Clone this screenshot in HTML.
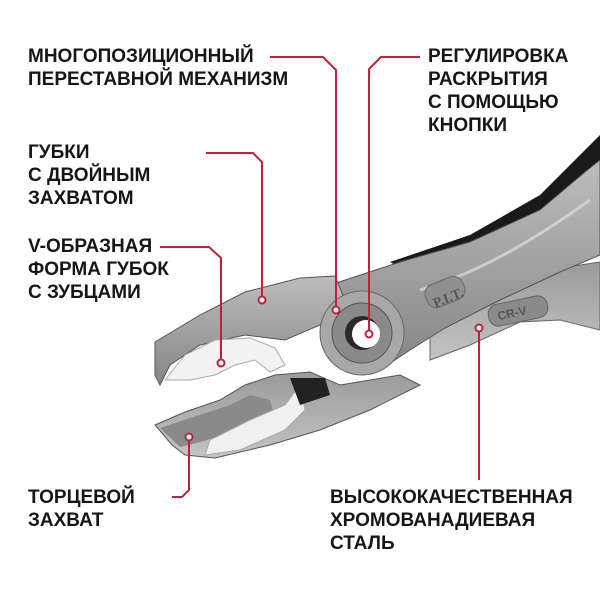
<!DOCTYPE html>
<html><head><meta charset="utf-8"><style>
html,body{margin:0;padding:0;background:#fff;}
#c{position:relative;width:600px;height:600px;overflow:hidden;}
svg{position:absolute;left:0;top:0;}
.t{position:absolute;font-family:"Liberation Sans","DejaVu Sans",sans-serif;font-weight:bold;font-size:19px;line-height:23px;color:#161616;white-space:nowrap;letter-spacing:0px;}
</style></head><body><div id="c">
<svg width="600" height="600" viewBox="0 0 600 600">
<defs>
<linearGradient id="g1" x1="0" y1="0" x2="0" y2="1"><stop offset="0" stop-color="#bdbdbd"/><stop offset="1" stop-color="#858585"/></linearGradient>
<linearGradient id="g2" x1="0" y1="0" x2="0" y2="1"><stop offset="0" stop-color="#9a9a9a"/><stop offset="1" stop-color="#c4c4c4"/></linearGradient>
</defs>
<path d="M430,330 L500,285 L560,268 L600,262 L600,330 L560,320 L520,322 L470,345 L430,360 Z" fill="url(#g2)" stroke="#666" stroke-width="1"/>
<path d="M390,262 L470,235 L540,195 L600,135 L600,165 L560,215 L500,255 L430,285 Z" fill="#1a1a1a"/>
<path d="M330,285 L400,262 L470,242 L540,210 L585,172 L600,160 L600,255 L560,272 L500,300 L445,328 L410,350 L380,370 L350,345 Z" fill="url(#g1)" stroke="#555" stroke-width="1"/>
<path d="M420,290 C470,275 520,250 590,200" stroke="#ddd" stroke-width="3" fill="none" opacity="0.7"/>
<rect x="425" y="280" width="40" height="24" rx="10" transform="rotate(-22 445 292)" fill="#8f8f8f" stroke="#6a6a6a"/>
<text x="430" y="303" font-family="Liberation Serif,serif" font-size="14" font-weight="bold" fill="#555" transform="rotate(-22 445 292)">P.I.T.</text>
<rect x="488" y="300" width="60" height="22" rx="10" transform="rotate(-12 518 311)" fill="#8a8a8a" stroke="#666"/>
<text x="497" y="316" font-family="Liberation Sans,sans-serif" font-size="12" font-weight="bold" fill="#555" transform="rotate(-12 518 311)">CR-V</text>
<path d="M155,342 L200,315 L245,292 L300,278 L335,276 L345,300 L320,325 L285,340 L245,335 L200,345 L170,365 L160,385 L155,375 Z" fill="url(#g1)" stroke="#555" stroke-width="1"/>
<path d="M165,380 L185,355 L215,340 L250,338 L275,348 L285,365 L270,372 L255,360 L235,365 L215,375 L190,380 Z" fill="#f2f2f2" stroke="#aaa" stroke-width="1"/>
<path d="M155,425 L185,412 L220,400 L245,385 L275,375 L310,372 L340,385 L400,375 L420,385 L370,410 L320,430 L270,445 L215,458 L185,455 L172,445 Z" fill="url(#g2)" stroke="#555" stroke-width="1"/>
<path d="M160,428 L190,418 L230,405 L250,395 L270,400 L275,420 L240,430 L200,442 L180,447 Z" fill="#8a8a8a"/>
<path d="M210,440 L250,420 L285,405 L300,385 L305,410 L285,430 L240,450 L205,455 Z" fill="#f0f0f0" stroke="#aaa"/>
<path d="M290,378 L325,378 L330,395 L300,405 Z" fill="#222"/>
<circle cx="362" cy="333" r="42" fill="#a8a8a8" stroke="#666"/>
<circle cx="362" cy="333" r="30" fill="#8a8a8a" stroke="#555"/>
<circle cx="362" cy="333" r="17" fill="#2a2a2a"/>
<circle cx="366" cy="334" r="14" fill="#fff"/>
<g stroke="#c0213a" stroke-width="2" fill="none">
<path d="M270,57 L323,57 L336,70 L336,306"/>
<path d="M420,57 L381,57 L369,69 L369,330"/>
<path d="M206,153 L253,153 L262,162 L262,296"/>
<path d="M160,247 L209,247 L221,258 L221,359"/>
<path d="M172,497 L182,497 L189,490 L189,441"/>
<path d="M479,332 L479,480"/>
</g>
<g fill="#fff" stroke="#c0213a" stroke-width="2">
<circle cx="336" cy="310" r="3.5"/><circle cx="369" cy="334" r="3.5"/>
<circle cx="262" cy="300" r="3.5"/><circle cx="221" cy="363" r="3.5"/>
<circle cx="189" cy="437" r="3.5"/><circle cx="479" cy="328" r="3.5"/>
</g>
</svg>
<div class="t" style="left:28px;top:45px;">МНОГОПОЗИЦИОННЫЙ<br>ПЕРЕСТАВНОЙ МЕХАНИЗМ</div>
<div class="t" style="left:428px;top:45px;">РЕГУЛИРОВКА<br>РАСКРЫТИЯ<br>С ПОМОЩЬЮ<br>КНОПКИ</div>
<div class="t" style="left:28px;top:141px;">ГУБКИ<br>С ДВОЙНЫМ<br>ЗАХВАТОМ</div>
<div class="t" style="left:28px;top:235px;">V-ОБРАЗНАЯ<br>ФОРМА ГУБОК<br>С ЗУБЦАМИ</div>
<div class="t" style="left:28px;top:486px;">ТОРЦЕВОЙ<br>ЗАХВАТ</div>
<div class="t" style="left:330px;top:486px;">ВЫСОКОКАЧЕСТВЕННАЯ<br>ХРОМОВАНАДИЕВАЯ<br>СТАЛЬ</div>
</div></body></html>
